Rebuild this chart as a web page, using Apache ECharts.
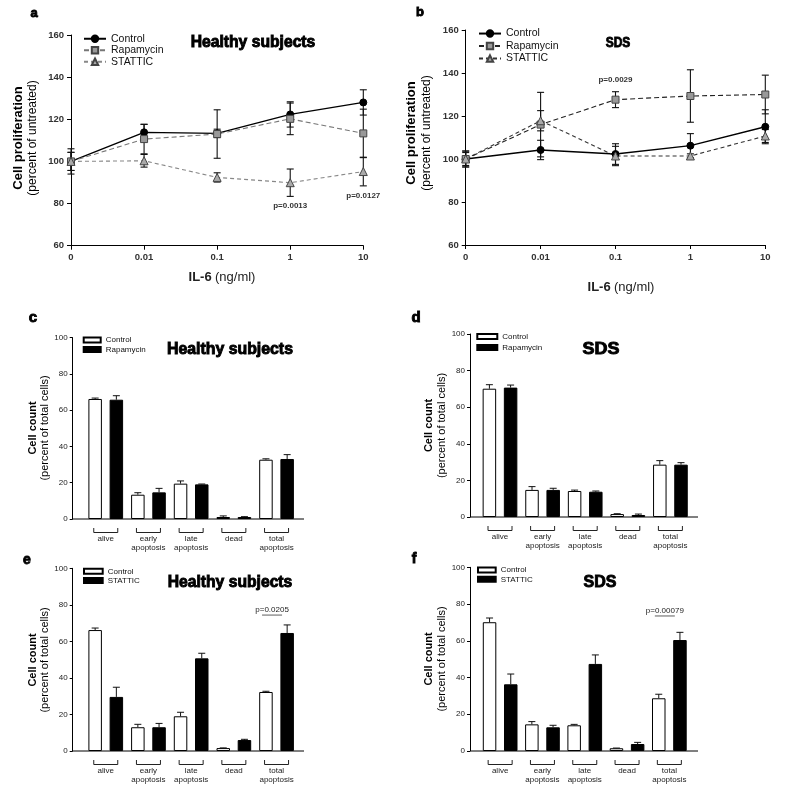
<!DOCTYPE html>
<html><head><meta charset="utf-8">
<script src="https://cdn.jsdelivr.net/npm/echarts@6/dist/echarts.min.js"></script>
<style>html,body{margin:0;padding:0;background:#fff}#c{width:787px;height:787px}</style>
</head><body><div id="c"></div>
<script>
const FONT = '"Liberation Sans", Arial, sans-serif';

// ---- panel a / b : proliferation vs IL-6 dose ----
const doseCats = ['0', '0.01', '0.1', '1', '10'];
const aControl = [100, 113.8, 113.3, 122.3, 128.0];
const aControlErr = [6, 3.8, 2, 6, 6];
const aRapa = [100, 110.6, 113.0, 120.2, 113.3];
const aRapaErr = [4.3, 7, 11.5, 7.5, 11.5];
const aStattic = [100, 100.3, 92.4, 89.9, 95.2];
const aStatticErr = [4.3, 3, 2.2, 6.5, 6.8];
const aPLabels = ['p=0.0013', 'p=0.0127'];
const aPPos = [[3, 78.8], [4, 83.5]];

const bControl = [100, 104.2, 102.3, 106.2, 115.0];
const bControlErr = [3.7, 4.5, 4.8, 5.6, 7.9];
const bRapa = [100, 116.0, 127.6, 129.3, 130.0];
const bRapaErr = [3.7, 15, 3.7, 12.2, 9];
const bStattic = [100, 117.8, 101.4, 101.4, 110.7];
const bStatticErr = [3, 4.7, 4.5, 1, 3];
const bPLabels = ['p=0.0029'];
const bPPos = [[2, 136.7]];

// ---- panels c-f : cell counts ----
const cellCats = ['alive', 'early\napoptosis', 'late\napoptosis', 'dead', 'total\napoptosis'];
const cCtrl = [66.2, 13.4, 19.5, 1.1, 32.7];
const cCtrlErr = [0.5, 1.1, 1.5, 0.6, 0.5];
const cRapa = [65.8, 14.7, 19.1, 1.1, 33.1];
const cRapaErr = [2.2, 2.2, 0.2, 0.2, 2.4];
const dCtrl = [70.1, 14.8, 14.2, 1.6, 28.6];
const dCtrlErr = [2.2, 1.8, 0.5, 0.2, 2.2];
const dRapa = [70.7, 14.8, 13.8, 1.1, 28.6];
const dRapaErr = [1.4, 0.9, 0.4, 0.5, 1.1];
const eCtrl = [66.2, 13.0, 19.0, 1.6, 32.3];
const eCtrlErr = [1.1, 1.6, 2.2, 0.1, 0.4];
const eStat = [29.6, 13.0, 50.7, 6.0, 64.6];
const eStatErr = [5.3, 2.1, 2.8, 0.4, 4.4];
const fCtrl = [70.1, 14.5, 14.0, 1.5, 28.7];
const fCtrlErr = [2.3, 1.5, 0.5, 0.1, 2.2];
const fStat = [36.3, 12.9, 47.4, 3.8, 60.4];
const fStatErr = [5.6, 1.1, 4.9, 0.9, 4.2];
const ePLabels = ['p=0.0205'];
const ePPos = [[4, 74.4]];
const fPLabels = ['p=0.00079'];
const fPPos = [[4, 73.5]];

// ---------------------------------------------------------------
const BAR_W = 13.5, BAR_GAP_PX = 7.7;
const BAR_OFF = (BAR_W + BAR_GAP_PX) / 2;

const grids = [
  {left: 71, top: 35, width: 292.3, height: 210.7},     // a
  {left: 465.7, top: 30, width: 299.6, height: 215},    // b
  {left: 84.4, top: 337.7, width: 213.5, height: 181.3},// c
  {left: 478.7, top: 334, width: 213, height: 183},     // d
  {left: 84.4, top: 568.3, width: 213.5, height: 182.7},// e
  {left: 479, top: 567.3, width: 211.5, height: 183.7}  // f
];
const yOffsets = [0, 0, 11.7, 8.7, 11.7, 9];

const axisLineStyle = {lineStyle: {color: '#000', width: 1}};

const xAxes = [], yAxes = [];
for (let g = 0; g < 6; g++) {
  if (g < 2) {
    xAxes.push({gridIndex: g, type: 'category', data: doseCats, boundaryGap: false,
      axisLine: axisLineStyle, axisTick: {length: 4, lineStyle: {color: '#000'}},
      axisLabel: {fontSize: 9.5, fontWeight: 'bold', color: '#333', margin: 7, fontFamily: FONT},
      splitLine: {show: false}});
    yAxes.push({gridIndex: g, type: 'value', min: 60, max: 160, interval: 20,
      axisLine: {show: true, lineStyle: {color: '#000', width: 1}}, axisTick: {show: true, length: 4, lineStyle: {color: '#000'}},
      axisLabel: {fontSize: 9.5, fontWeight: 'bold', color: '#333', margin: 7, fontFamily: FONT},
      splitLine: {show: false}});
  } else {
    xAxes.push({gridIndex: g, type: 'category', data: cellCats,
      axisLine: {show: false}, axisTick: {show: false},
      axisLabel: {fontSize: 8, color: '#222', margin: 15, lineHeight: 9, fontFamily: FONT, interval: 0},
      splitLine: {show: false}});
    yAxes.push({gridIndex: g, type: 'value', min: 0, max: 100, interval: 20, offset: yOffsets[g],
      axisLine: {show: true, lineStyle: {color: '#000', width: 1}}, axisTick: {show: true, length: 3, lineStyle: {color: '#000'}},
      axisLabel: {fontSize: 8, color: '#222', margin: 5, fontFamily: FONT},
      splitLine: {show: false}});
  }
}

function lineErrItem(params, api) {
  const x = api.value(0);
  const lo = api.coord([x, api.value(1)]);
  const hi = api.coord([x, api.value(2)]);
  const cx = lo[0], w = 3.5;
  const st = {stroke: '#111', lineWidth: 1.1};
  return {type: 'group', children: [
    {type: 'line', shape: {x1: cx, y1: lo[1], x2: cx, y2: hi[1]}, style: st},
    {type: 'line', shape: {x1: cx - w, y1: lo[1], x2: cx + w, y2: lo[1]}, style: st},
    {type: 'line', shape: {x1: cx - w, y1: hi[1], x2: cx + w, y2: hi[1]}, style: st}
  ]};
}
function barErrItem(offset) {
  return function (params, api) {
    const i = api.value(0), v = api.value(1), e = api.value(2);
    const p0 = api.coord([i, v]), p1 = api.coord([i, v + e]);
    const x = p0[0] + offset, w = 3.5;
    const st = {stroke: '#111', lineWidth: 1};
    return {type: 'group', children: [
      {type: 'line', shape: {x1: x, y1: p0[1], x2: x, y2: p1[1]}, style: st},
      {type: 'line', shape: {x1: x - w, y1: p1[1], x2: x + w, y2: p1[1]}, style: st}
    ]};
  };
}
function bracketItem(params, api) {
  const p = api.coord([api.value(0), 0]);
  const hw = 12, y1 = p[1] + 9, y2 = p[1] + 13.5;
  return {type: 'polyline', shape: {points: [[p[0] - hw, y1], [p[0] - hw, y2], [p[0] + hw, y2], [p[0] + hw, y1]]},
    style: {stroke: '#222', fill: null, lineWidth: 1}};
}
function pTextItem(labels) {
  return function (params, api) {
    const p = api.coord([api.value(0), api.value(1)]);
    return {type: 'text', x: p[0], y: p[1], style: {text: labels[params.dataIndex], font: 'bold 8px ' + FONT, fill: '#333',
      align: 'center', verticalAlign: 'middle', textAlign: 'center', textVerticalAlign: 'middle'}};
  };
}
function sigItem(labels) {
  return function (params, api) {
    const p = api.coord([api.value(0), api.value(1)]);
    return {type: 'group', children: [
      {type: 'line', shape: {x1: p[0] - 14.5, y1: p[1], x2: p[0] + 5.5, y2: p[1]}, style: {stroke: '#333', lineWidth: 0.8}},
      {type: 'text', x: p[0] - 4.5, y: p[1] - 1, style: {text: labels[params.dataIndex], font: '8px ' + FONT, fill: '#222',
        align: 'center', verticalAlign: 'bottom', textAlign: 'center', textVerticalAlign: 'bottom'}}
    ]};
  };
}

const series = [];
function addLine(g, name, vals, errs, sty) {
  series.push({type: 'custom', xAxisIndex: g, yAxisIndex: g, silent: true, z: 2,
    encode: {x: 0, y: [1, 2]},
    data: vals.map((v, i) => [i, v - errs[i], v + errs[i]]), renderItem: lineErrItem});
  series.push(Object.assign({type: 'line', name: name, xAxisIndex: g, yAxisIndex: g, data: vals, z: 3,
    silent: true}, sty));
}
const ctrlSty = {symbol: 'circle', symbolSize: 7, lineStyle: {color: '#000', width: 1.4, type: 'solid'},
  itemStyle: {color: '#000', borderColor: '#000', borderWidth: 1}};
function rapSty(lc) { return {symbol: 'rect', symbolSize: 7, lineStyle: {color: lc, width: 1.1, type: [5, 3]},
  itemStyle: {color: '#999', borderColor: '#444', borderWidth: 1}}; }
function statSty(lc) { return {symbol: 'triangle', symbolSize: 8, lineStyle: {color: lc, width: 1.1, type: [4, 3]},
  itemStyle: {color: '#aaa', borderColor: '#444', borderWidth: 1}}; }

addLine(0, 'Control@a', aControl, aControlErr, ctrlSty);
addLine(0, 'Rapamycin@a', aRapa, aRapaErr, rapSty('#777'));
addLine(0, 'STATTIC@a', aStattic, aStatticErr, statSty('#888'));
series.push({type: 'custom', xAxisIndex: 0, yAxisIndex: 0, silent: true, data: aPPos, renderItem: pTextItem(aPLabels)});

addLine(1, 'Control@b', bControl, bControlErr, ctrlSty);
addLine(1, 'Rapamycin@b', bRapa, bRapaErr, rapSty('#222'));
addLine(1, 'STATTIC@b', bStattic, bStatticErr, statSty('#333'));
series.push({type: 'custom', xAxisIndex: 1, yAxisIndex: 1, silent: true, data: bPPos, renderItem: pTextItem(bPLabels)});

function addBars(g, n1, v1, e1, n2, v2, e2) {
  series.push({type: 'bar', name: n1, xAxisIndex: g, yAxisIndex: g, data: v1, barWidth: BAR_W,
    barGap: (BAR_GAP_PX / BAR_W * 100) + '%', silent: true,
    itemStyle: {color: '#fff', borderColor: '#000', borderWidth: 1}});
  series.push({type: 'bar', name: n2, xAxisIndex: g, yAxisIndex: g, data: v2, barWidth: BAR_W,
    barGap: (BAR_GAP_PX / BAR_W * 100) + '%', silent: true,
    itemStyle: {color: '#000', borderColor: '#000', borderWidth: 1}});
  series.push({type: 'custom', xAxisIndex: g, yAxisIndex: g, silent: true, z: 3,
    data: v1.map((v, i) => [i, v, e1[i]]), renderItem: barErrItem(-BAR_OFF)});
  series.push({type: 'custom', xAxisIndex: g, yAxisIndex: g, silent: true, z: 3,
    data: v2.map((v, i) => [i, v, e2[i]]), renderItem: barErrItem(BAR_OFF)});
  series.push({type: 'custom', xAxisIndex: g, yAxisIndex: g, silent: true,
    data: cellCats.map((c, i) => [i, 0]), renderItem: bracketItem});
}
addBars(2, 'Control@c', cCtrl, cCtrlErr, 'Rapamycin@c', cRapa, cRapaErr);
addBars(3, 'Control@d', dCtrl, dCtrlErr, 'Rapamycin@d', dRapa, dRapaErr);
addBars(4, 'Control@e', eCtrl, eCtrlErr, 'STATTIC@e', eStat, eStatErr);
addBars(5, 'Control@f', fCtrl, fCtrlErr, 'STATTIC@f', fStat, fStatErr);
series.push({type: 'custom', xAxisIndex: 4, yAxisIndex: 4, silent: true, data: ePPos, renderItem: sigItem(ePLabels)});
series.push({type: 'custom', xAxisIndex: 5, yAxisIndex: 5, silent: true, data: fPPos, renderItem: sigItem(fPLabels)});

function legend(left, top, names, iw, ih, fs, lh, icon) {
  const l = {left: left, top: top, orient: 'vertical', data: names, itemWidth: iw, itemHeight: ih, itemGap: 0,
    padding: 0, selectedMode: false, formatter: n => n.split('@')[0],
    textStyle: {fontSize: fs, lineHeight: lh, color: '#111', fontFamily: FONT}};
  if (icon) l.icon = icon;
  return l;
}
const legends = [
  legend(83, 33, ['Control@a', 'Rapamycin@a', 'STATTIC@a'], 22, 8, 10.5, 11.5),
  legend(478, 27.3, ['Control@b', 'Rapamycin@b', 'STATTIC@b'], 22, 8, 10.5, 12.5),
  legend(82.7, 335.3, ['Control@c', 'Rapamycin@c'], 17, 5, 8, 9.5, 'rect'),
  legend(476.3, 331, ['Control@d', 'Rapamycin@d'], 20, 5, 8, 11, 'rect'),
  legend(83, 566.7, ['Control@e', 'STATTIC@e'], 18.7, 5, 8, 9.2, 'rect'),
  legend(477, 565.4, ['Control@f', 'STATTIC@f'], 17.7, 5, 8, 9.3, 'rect')
];

function txt(x, y, text, font, opts) {
  return Object.assign({type: 'text', x: x, y: y, silent: true,
    style: {text: text, font: font, fill: '#000', align: 'center', verticalAlign: 'middle',
      textAlign: 'center', textVerticalAlign: 'middle'}}, opts || {});
}
function heavy(x, y, text, size, sx) {
  const t = txt(x, y, text, '900 ' + size + 'px ' + FONT, {scaleX: sx});
  t.style.stroke = '#000';
  t.style.lineWidth = 0.9;
  return t;
}
const R = Math.PI / 2;
const graphic = [
  // panel letters
  heavy(34, 13, 'a', 13, 1),
  heavy(420, 12, 'b', 13, 1),
  heavy(33, 318, 'c', 15, 1),
  heavy(416, 318, 'd', 15, 1),
  heavy(27, 560, 'e', 14, 1),
  heavy(414, 559, 'f', 14, 1),
  // panel titles
  heavy(253, 43, 'Healthy subjects', 16, 0.98),
  heavy(618, 43, 'SDS', 15, 0.8),
  heavy(230, 350, 'Healthy subjects', 16, 0.99),
  heavy(601, 350, 'SDS', 16, 1.12),
  heavy(230, 583, 'Healthy subjects', 16, 0.98),
  heavy(600, 583, 'SDS', 16, 1.0),
  // y titles, line panels
  txt(18, 138, 'Cell proliferation', 'bold 13px ' + FONT, {rotation: R}),
  txt(33, 138, '(percent of untreated)', '12px ' + FONT, {rotation: R}),
  txt(411.5, 133, 'Cell proliferation', 'bold 13px ' + FONT, {rotation: R}),
  txt(426.5, 133, '(percent of untreated)', '12px ' + FONT, {rotation: R}),
  // x titles, line panels
  {type: 'text', x: 222, y: 277, silent: true, style: {text: '{b|IL-6} {n|(ng/ml)}', align: 'center', verticalAlign: 'middle',
    textAlign: 'center', textVerticalAlign: 'middle',
    rich: {b: {font: 'bold 13px ' + FONT, fill: '#222'}, n: {font: '13px ' + FONT, fill: '#222'}}}},
  {type: 'text', x: 621, y: 287, silent: true, style: {text: '{b|IL-6} {n|(ng/ml)}', align: 'center', verticalAlign: 'middle',
    textAlign: 'center', textVerticalAlign: 'middle',
    rich: {b: {font: 'bold 13px ' + FONT, fill: '#222'}, n: {font: '13px ' + FONT, fill: '#222'}}}},
  // y titles, bar panels
  txt(33, 428, 'Cell count', 'bold 11px ' + FONT, {rotation: R}),
  txt(45, 428, '(percent of total cells)', '11px ' + FONT, {rotation: R}),
  txt(429, 425.5, 'Cell count', 'bold 11px ' + FONT, {rotation: R}),
  txt(441.5, 425.5, '(percent of total cells)', '11px ' + FONT, {rotation: R}),
  txt(33, 660, 'Cell count', 'bold 11px ' + FONT, {rotation: R}),
  txt(45, 660, '(percent of total cells)', '11px ' + FONT, {rotation: R}),
  txt(429, 659, 'Cell count', 'bold 11px ' + FONT, {rotation: R}),
  txt(441.5, 659, '(percent of total cells)', '11px ' + FONT, {rotation: R}),
  // x-axis baselines of bar panels
  {type: 'line', silent: true, shape: {x1: 72.7, y1: 519, x2: 304, y2: 519}, style: {stroke: '#000', lineWidth: 1}},
  {type: 'line', silent: true, shape: {x1: 470, y1: 517, x2: 698, y2: 517}, style: {stroke: '#000', lineWidth: 1}},
  {type: 'line', silent: true, shape: {x1: 72.7, y1: 751, x2: 304, y2: 751}, style: {stroke: '#000', lineWidth: 1}},
  {type: 'line', silent: true, shape: {x1: 470.3, y1: 751, x2: 698, y2: 751}, style: {stroke: '#000', lineWidth: 1}}
];

const chart = echarts.init(document.getElementById('c'), null, {renderer: 'canvas'});
chart.setOption({
  animation: false,
  backgroundColor: '#fff',
  textStyle: {fontFamily: FONT},
  grid: grids,
  xAxis: xAxes,
  yAxis: yAxes,
  legend: legends,
  series: series,
  graphic: graphic
});
</script></body></html>
